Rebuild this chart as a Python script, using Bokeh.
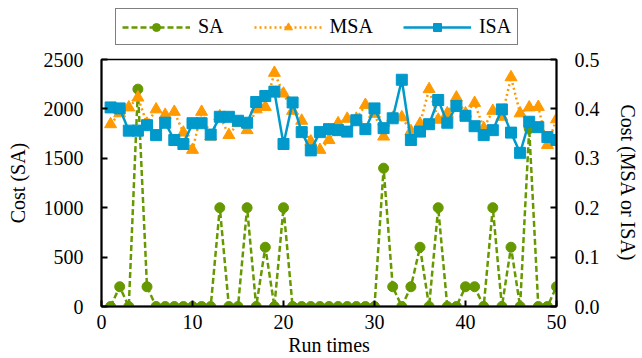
from bokeh.plotting import figure
from bokeh.layouts import column
from bokeh.models import Range1d, LinearAxis, Legend, LegendItem, FixedTicker, NumeralTickFormatter
from bokeh.embed import file_html
from bokeh.resources import INLINE

runs = list(range(1, 51))
sa = [0, 200, 0, 2200, 200, 0, 0, 0, 0, 0,
      0, 0, 1000, 0, 0, 1000, 0, 600, 0, 1000,
      0, 0, 0, 0, 0, 0, 0, 0, 0, 0,
      1400, 200, 0, 200, 600, 0, 1000, 0, 0, 200,
      200, 0, 1000, 0, 600, 0, 1800, 0, 0, 200]
msa = [0.369, 0.391, 0.403, 0.423, 0.370, 0.399, 0.388, 0.394, 0.352, 0.317,
       0.394, 0.344, 0.385, 0.347, 0.371, 0.357, 0.399, 0.404, 0.473, 0.431,
       0.396, 0.376, 0.334, 0.317, 0.337, 0.371, 0.380, 0.380, 0.408, 0.390,
       0.344, 0.382, 0.383, 0.355, 0.370, 0.440, 0.378, 0.391, 0.423, 0.391,
       0.412, 0.361, 0.396, 0.384, 0.464, 0.391, 0.403, 0.404, 0.327, 0.379]
isa = [0.403, 0.401, 0.356, 0.356, 0.367, 0.347, 0.372, 0.337, 0.329, 0.371,
       0.371, 0.348, 0.384, 0.384, 0.376, 0.372, 0.414, 0.426, 0.435, 0.329,
       0.413, 0.353, 0.316, 0.353, 0.359, 0.357, 0.354, 0.377, 0.359, 0.401,
       0.361, 0.381, 0.459, 0.337, 0.354, 0.369, 0.418, 0.372, 0.406, 0.386,
       0.365, 0.347, 0.357, 0.399, 0.352, 0.311, 0.374, 0.363, 0.343, 0.337]
series_names = ["SA", "MSA", "ISA"]
x_ticks = [0, 10, 20, 30, 40, 50]
left_ticks = [0, 500, 1000, 1500, 2000, 2500]
right_ticks = [0.0, 0.1, 0.2, 0.3, 0.4, 0.5]

FONT = "Liberation Serif"
GREEN = "#669900"
ORANGE = "#ff9900"
BLUE = "#0099cc"

styles = {
    "SA": dict(color=GREEN, dash="6 3", marker="circle", size=10),
    "MSA": dict(color=ORANGE, dash="2 3", marker="triangle", size=12),
    "ISA": dict(color=BLUE, dash="solid", marker="square", size=11),
}
series = [("SA", sa, "default"), ("MSA", msa, "right"), ("ISA", isa, "right")]

# ---- main chart ----
p = figure(width=642, height=310, output_backend="svg", toolbar_location=None,
           x_range=Range1d(0, 50), y_range=Range1d(0, 2500),
           min_border_left=101, min_border_right=86, min_border_top=11, min_border_bottom=50)
p.extra_y_ranges = {"right": Range1d(0, 0.5)}
p.grid.visible = False
p.outline_line_color = "black"
p.outline_line_width = 1.5
p.background_fill_color = "white"
p.border_fill_color = "white"

for name, ys, rng in series:
    st = styles[name]
    p.line(runs, ys, y_range_name=rng, line_color=st["color"], line_width=2.5, line_dash=st["dash"])
    p.scatter(runs, ys, y_range_name=rng, marker=st["marker"], size=st["size"],
              fill_color=st["color"], line_color=st["color"])

right_axis = LinearAxis(y_range_name="right", axis_label="Cost (MSA or ISA)")
p.add_layout(right_axis, "right")

p.xaxis.axis_label = "Run times"
p.yaxis[0].axis_label = "Cost (SA)"
p.xaxis.ticker = FixedTicker(ticks=x_ticks)
p.yaxis[0].ticker = FixedTicker(ticks=left_ticks)
right_axis.ticker = FixedTicker(ticks=right_ticks)
right_axis.formatter = NumeralTickFormatter(format="0.0")

for ax in [p.xaxis[0], p.yaxis[0], right_axis]:
    ax.axis_line_color = "black"
    ax.axis_line_width = 2
    ax.major_tick_line_color = "black"
    ax.major_tick_line_width = 2
    ax.major_tick_in = 6
    ax.major_tick_out = 0
    ax.minor_tick_line_color = None
    ax.major_label_text_font = FONT
    ax.major_label_text_font_size = "20px"
    ax.major_label_text_color = "black"
    ax.axis_label_text_font = FONT
    ax.axis_label_text_font_size = "20px"
    ax.axis_label_text_font_style = "normal"
    ax.axis_label_text_color = "black"

p.xaxis[0].major_label_standoff = 8
p.xaxis[0].axis_label_standoff = 2
p.yaxis[0].major_label_standoff = 18
p.yaxis[0].axis_label_standoff = 12
right_axis.major_label_standoff = 18
right_axis.axis_label_standoff = 14

# ---- legend strip (its glyphs mirror the series, drawn outside its visible range) ----
lg = figure(width=642, height=48, output_backend="svg", toolbar_location=None,
            x_range=Range1d(-3, -2), y_range=Range1d(-3, -2),
            x_axis_type=None, y_axis_type=None,
            min_border_left=101, min_border_right=86, min_border_top=0, min_border_bottom=0)
lg.grid.visible = False
lg.outline_line_color = None
lg.background_fill_color = "white"
lg.border_fill_color = "white"

items = []
for name, ys, rng in series:
    st = styles[name]
    ln = lg.line(runs, ys, line_color=st["color"], line_width=2.5, line_dash=st["dash"])
    mk = lg.scatter(runs, ys, marker=st["marker"], size=st["size"],
                    fill_color=st["color"], line_color=st["color"])
    items.append(LegendItem(label=name, renderers=[ln, mk]))

legend = Legend(items=items, orientation="horizontal", location=(14, 3))
legend.label_text_font = FONT
legend.label_text_font_size = "20px"
legend.label_text_color = "black"
legend.glyph_width = 68
legend.glyph_height = 20
legend.label_standoff = 8
legend.spacing = 30
legend.padding = 6
legend.margin = 0
legend.border_line_color = "black"
legend.border_line_width = 1.5
legend.background_fill_color = "white"
legend.background_fill_alpha = 1.0
lg.add_layout(legend, "center")

layout = column(lg, p, spacing=0)
open("out.html", "w").write(file_html(layout, INLINE))
